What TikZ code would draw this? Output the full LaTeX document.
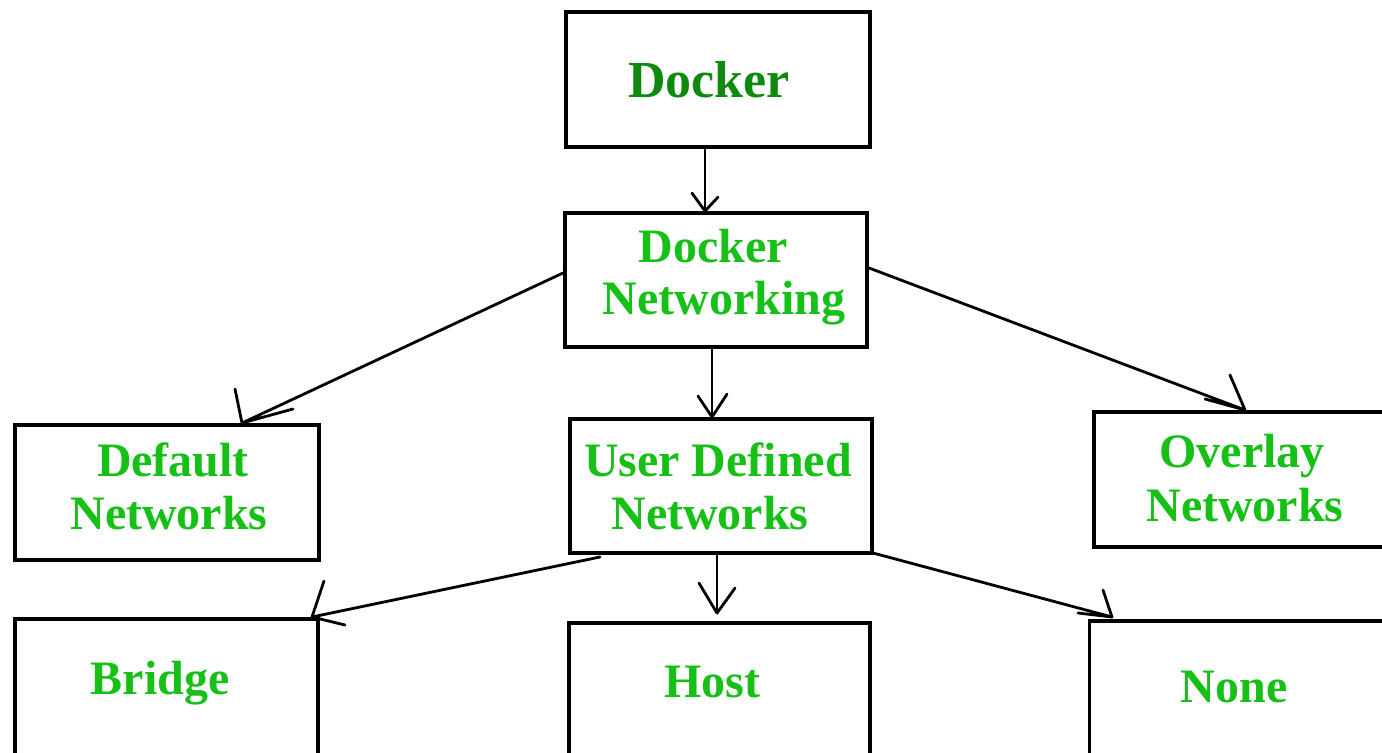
\documentclass[tikz,border=0pt]{standalone}
\usepackage{fontspec}
\setmainfont{Liberation Serif}
\definecolor{dkgreen}{RGB}{14,138,14}
\definecolor{brgreen}{RGB}{22,192,22}
\begin{document}
\begin{tikzpicture}[x=0.5pt,y=-0.5pt,
  box/.style={draw=black,line width=1.9pt,inner sep=0pt,minimum width=#1},
  box/.default=151pt,
  lbl/.style={font=\bfseries\fontsize{24}{26}\selectfont,text=brgreen,anchor=base,inner sep=0pt},
  toplbl/.style={font=\bfseries\fontsize{26}{28}\selectfont,text=dkgreen,anchor=base,inner sep=0pt},
  conn/.style={line width=1.4pt,line cap=round,line join=round}]
\useasboundingbox (0,0) rectangle (1382,753);
\fill[white] (0,0) rectangle (1382,753);
\clip (0,0) rectangle (1382,753);
% boxes
\node[box=152pt,minimum height=67.5pt,line width=2.3pt] (docker) at (718,79.5) {};
\node[box=151pt,minimum height=67pt] (dn) at (716,280) {};
\node[box=152pt,minimum height=67.5pt] (def) at (167,492.5) {};
\node[box=151pt,minimum height=67pt] (ud) at (721,486) {};
\node[box=153pt,minimum height=67.5pt] (ov) at (1247,479.5) {};
\node[box=151.5pt,minimum height=75pt] (br) at (166.5,694) {};
\node[box=150.5pt,minimum height=74pt] (ho) at (719.5,697) {};
\node[box=155pt,minimum height=74.5pt] (no) at (1244.5,695.5) {};
% labels
\node[toplbl] (t1) at (709,98) {Docker};
\node[lbl] (t2a) at (713,263) {Docker};
\node[lbl] (t2b) at (724,315) {Networking};
\node[lbl] (t3a) at (173,477) {Default};
\node[lbl] (t3b) at (169,530) {Networks};
\node[lbl] (t4a) at (718,477) {User Defined};
\node[lbl] (t4b) at (710,530) {Networks};
\node[lbl] (t5a) at (1242,468) {Overlay};
\node[lbl] (t5b) at (1245,522) {Networks};
\node[lbl] (t6) at (160,694) {Bridge};
\node[lbl] (t7) at (712,697) {Host};
\node[lbl] (t8) at (1234,702) {None};
% arrow tips and starts
\coordinate (p1) at (705,0);
\coordinate (p4) at (712,0);
\coordinate (p6) at (717,0);
\coordinate (tipdef) at (242,423);
\coordinate (tipov) at (1245,410);
\coordinate (tipbr) at (312,617);
\coordinate (tipno) at (1112,617);
\coordinate (sdef) at (563,273);
\coordinate (sov) at (869,268);
\coordinate (sbr) at (600,557);
\coordinate (sno) at (873,553);
% connectors
\draw[conn] (docker.south -| p1) -- (dn.north -| p1) coordinate (tip1);
\draw[conn] (tip1) -- ++(-13,-18) (tip1) -- ++(13,-14);
\draw[conn] (sdef) -- (tipdef) -- ++(-7,-34) (tipdef) -- ++(51,-14);
\draw[conn] (sov) -- (tipov) -- ++(-15,-35) (tipov) -- ++(-40,-11);
\draw[conn] (dn.south -| p4) -- (ud.north -| p4) coordinate (tip4);
\draw[conn] (tip4) -- ++(-14,-21) (tip4) -- ++(15,-23);
\draw[conn] (sbr) -- (tipbr) -- ++(12,-36) (tipbr) -- ++(33,8);
\draw[conn] (ud.south -| p6) -- ([yshift=4]ho.north -| p6) coordinate (tip6);
\draw[conn] (tip6) -- ++(-18,-30) (tip6) -- ++(18,-25);
\draw[conn] (sno) -- (tipno) -- ++(-9,-27) (tipno) -- ++(-34,-4);
\end{tikzpicture}
\end{document}
